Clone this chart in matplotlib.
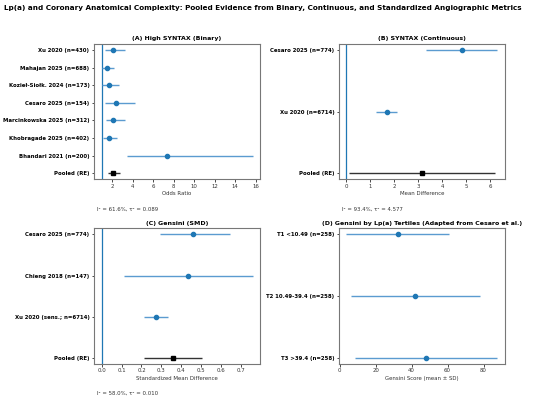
import numpy as np
import matplotlib
matplotlib.use("Agg")
import matplotlib.pyplot as plt

# ---------------------------------------------
# data
# ---------------------------------------------
a_labels = ["Xu 2020 (n=430)", "Mahajan 2025 (n=688)", "Kozieł-Siołk. 2024 (n=173)",
            "Cesaro 2025 (n=154)", "Marcinkowska 2025 (n=312)", "Khobragade 2025 (n=402)",
            "Bhandari 2021 (n=200)"]
a_est = [2.1, 1.48, 1.68, 2.4, 2.07, 1.71, 7.4]
a_lo = [1.29, 0.98, 1.0, 1.32, 1.37, 1.12, 3.5]
a_hi = [3.3, 2.16, 2.68, 4.24, 3.26, 2.5, 15.7]
a_pool = [2.07, 1.6, 2.8]
a_note = "I² = 61.6%, τ² = 0.089"

b_labels = ["Cesaro 2025 (n=774)", "Xu 2020 (n=6714)"]
b_est = [4.8, 1.68]
b_lo = [3.31, 1.24]
b_hi = [6.29, 2.10]
b_pool = [3.14, 0.11, 6.18]
b_note = "I² = 93.4%, τ² = 4.577"

c_labels = ["Cesaro 2025 (n=774)", "Chieng 2018 (n=147)", "Xu 2020 (sens.; n=6714)"]
c_est = [0.46, 0.435, 0.272]
c_lo = [0.293, 0.111, 0.211]
c_hi = [0.646, 0.757, 0.334]
c_pool = [0.358, 0.211, 0.504]
c_note = "I² = 58.0%, τ² = 0.010"

d_labels = ["T1 <10.49 (n=258)", "T2 10.49-39.4 (n=258)", "T3 >39.4 (n=258)"]
d_mean = [32.2, 42.0, 48.2]
d_sd = [28.5, 35.8, 39.5]

BLUE = "#1f77b4"
FS = 3.9

fig, axes = plt.subplots(2, 2, figsize=(5.5, 3.99), dpi=100)
fig.subplots_adjust(left=0.171, right=0.918, top=0.89, bottom=0.088, wspace=0.475, hspace=0.36)
fig.suptitle("Lp(a) and Coronary Anatomical Complexity: Pooled Evidence from Binary, "
             "Continuous, and Standardized Angiographic Metrics",
             fontsize=5.2, fontweight="bold", x=0.478, y=0.988)


def forest(ax, labels, est, lo, hi, pool=None, ref=None, title="", xlabel="", note=None):
    est = np.array(est)
    lo = np.array(lo)
    hi = np.array(hi)
    ylab = list(labels)
    y = np.arange(len(labels))
    if ref is not None:
        ax.axvline(ref, color=BLUE, lw=0.9)
    ax.errorbar(est, y, xerr=[est - lo, hi - est], fmt="o", color=BLUE, ms=3.0,
                elinewidth=1.0, ecolor="#5b9bd0", capsize=0)
    if pool is not None:
        yp = len(labels)
        ax.errorbar([pool[0]], [yp], xerr=[[pool[0] - pool[1]], [pool[2] - pool[0]]],
                    fmt="s", color="black", ms=3.0, elinewidth=1.0, ecolor="#333333", capsize=0)
        ylab.append("Pooled (RE)")
    ax.set_yticks(np.arange(len(ylab)))
    ax.set_yticklabels(ylab, fontsize=FS, fontweight="bold")
    ax.invert_yaxis()
    ax.set_title(title, fontsize=4.5, fontweight="bold", pad=2.5)
    ax.set_xlabel(xlabel, fontsize=FS, labelpad=1.5, color="#333333")
    ax.tick_params(axis="x", labelsize=FS, length=1.8, width=0.5, pad=1.5, labelcolor="#333333")
    ax.tick_params(axis="y", length=1.8, width=0.5, pad=1.5)
    for s in ax.spines.values():
        s.set_color("#777777")
        s.set_linewidth(0.8)
    if note:
        ax.text(0.02, -0.2, note, transform=ax.transAxes, fontsize=FS, ha="left",
                va="top", color="#333333")


forest(axes[0, 0], a_labels, a_est, a_lo, a_hi, a_pool, ref=1,
       title="(A) High SYNTAX (Binary)", xlabel="Odds Ratio", note=a_note)
forest(axes[0, 1], b_labels, b_est, b_lo, b_hi, b_pool, ref=0,
       title="(B) SYNTAX (Continuous)", xlabel="Mean Difference", note=b_note)
forest(axes[1, 0], c_labels, c_est, c_lo, c_hi, c_pool, ref=0,
       title="(C) Gensini (SMD)", xlabel="Standardized Mean Difference", note=c_note)

d_mean = np.array(d_mean)
d_sd = np.array(d_sd)
forest(axes[1, 1], d_labels, d_mean, d_mean - d_sd, d_mean + d_sd,
       title="(D) Gensini by Lp(a) Tertiles (Adapted from Cesaro et al.)",
       xlabel="Gensini Score (mean ± SD)")

axes[0, 0].set_xticks(np.arange(2, 17, 2))
axes[1, 0].set_xticks(np.arange(0, 0.71, 0.1))
axes[1, 1].set_xticks(np.arange(0, 81, 20))

plt.savefig("out.png", dpi=100)
